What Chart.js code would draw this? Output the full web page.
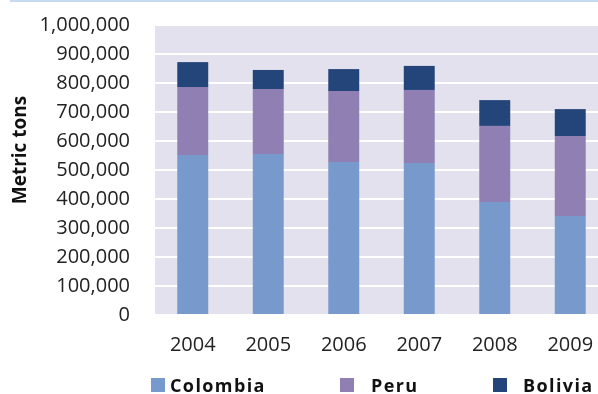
<!DOCTYPE html>
<html><head><meta charset="utf-8">
<script src="https://cdn.jsdelivr.net/npm/chart.js@4"></script>
<style>
html,body{margin:0;padding:0;background:#fff;overflow:hidden}
#wrap{position:relative;width:598px;height:394px;overflow:hidden}
#topline{position:absolute;left:10px;top:0;width:588px;height:2px;background:#c8daee}
#cv{position:absolute;left:0;top:0}
#legend{position:absolute;left:0;top:374px;width:598px;height:22px;font-family:"Open Sans",sans-serif;font-weight:bold;font-size:18px;color:#111;letter-spacing:1.4px}
.item{position:absolute;top:0;display:flex;align-items:center;height:22px}
.box{width:14px;height:14px;display:inline-block}
</style></head>
<body>
<div id="wrap">
<div id="topline"></div>
<canvas id="cv" width="612" height="394" style="width:612px;height:394px"></canvas>
<div id="legend"></div>
</div>
<script>
const years = ["2004","2005","2006","2007","2008","2009"];
const colombia = [552000,555000,528000,524000,390000,341000];
const peru = [234000,224000,244000,252000,262000,276000];
const bolivia = [86000,66000,76000,83000,89000,93000];
const seriesNames = ["Colombia","Peru","Bolivia"];
const seriesColors = ["#7899cc","#8f7fb3","#24457a"];
const yTitle = "Metric tons";

const titlePlugin = {
  id:'ytitle',
  afterDraw(chart){
    const c = chart.ctx;
    c.save();
    c.translate(21,150);
    c.rotate(-Math.PI/2);
    c.font = 'bold 19px "Open Sans"';
    c.fillStyle = '#111';
    c.textAlign='center';
    c.textBaseline='middle';
    c.fillText(yTitle,0,0);
    c.restore();
  }
};
const bgPlugin = {
  id:'bg',
  beforeDraw(chart){
    const a = chart.chartArea, c = chart.ctx;
    c.save(); c.fillStyle = '#e3e1ed';
    c.fillRect(a.left,a.top,a.right-a.left,a.bottom-a.top);
    c.restore();
  }
};
const data = [colombia, peru, bolivia];
new Chart(document.getElementById('cv'),{
  type:'bar',
  data:{labels:years,datasets:seriesNames.map((n,i)=>({label:n,data:data[i],backgroundColor:seriesColors[i],barPercentage:0.41,categoryPercentage:1}))},
  options:{
    responsive:false,animation:false,
    layout:{padding:{left:0,right:4,top:25,bottom:0}},
    plugins:{legend:{display:false},tooltip:{enabled:false}},
    scales:{
      x:{stacked:true,
        grid:{display:false},
        border:{display:true,color:'#ffffff',width:2},
        ticks:{font:{family:'"Open Sans"',size:20},color:'#222',padding:10,maxRotation:0},
        afterFit(s){s.height=79;}
      },
      y:{stacked:true,min:0,max:1000000,
        grid:{color:'#ffffff',lineWidth:2,drawTicks:false},
        border:{display:false},
        ticks:{stepSize:100000,font:{family:'"Open Sans"',size:20},color:'#222',padding:25,
          callback:v=>v.toLocaleString('en-US')},
        afterFit(s){s.width=155;s.paddingTop=0;s.paddingBottom=0;}
      }
    }
  },
  plugins:[bgPlugin,titlePlugin]
});
const pos = [{box:151,text:170},{box:340,text:371},{box:493,text:523}];
const lg = document.getElementById('legend');
seriesNames.forEach((n,i)=>{
  const b=document.createElement('div');b.className='item';b.style.left=pos[i].box+'px';
  b.innerHTML='<span class="box" style="background:'+seriesColors[i]+'"></span>';
  lg.appendChild(b);
  const t=document.createElement('div');t.className='item';t.style.left=pos[i].text+'px';t.textContent=n;
  lg.appendChild(t);
});
</script>
</body></html>
